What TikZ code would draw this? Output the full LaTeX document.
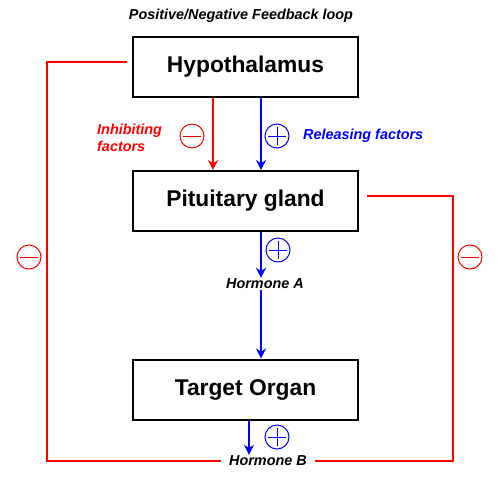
\documentclass[tikz,border=0pt]{standalone}
\usepackage{fontspec}
\setmainfont{Liberation Sans}
\usetikzlibrary{arrows.meta}
\definecolor{myred}{RGB}{255,0,0}
\definecolor{myblue}{RGB}{0,0,255}
\tikzset{
  organ/.style={draw=black, line width=2pt, minimum width=225pt, minimum height=60pt, inner sep=0pt, font=\fontsize{22.8}{26}\selectfont\bfseries},
  lbl/.style={font=\fontsize{14.4}{17.5}\selectfont\bfseries\itshape, inner sep=1pt},
  conn/.style={line width=2pt},
  arr/.style={line width=2pt, -{Stealth[length=10pt,width=10pt]}},
  minussign/.style={circle, draw, line width=1pt, minimum size=24pt, inner sep=0pt,
    path picture={\draw[line width=1pt] ([xshift=-9pt]path picture bounding box.center) -- ([xshift=9pt]path picture bounding box.center);}},
  plussign/.style={minussign,
    path picture={\draw[line width=1pt] ([xshift=-9pt]path picture bounding box.center) -- ([xshift=9pt]path picture bounding box.center);
      \draw[line width=1pt] ([yshift=-9pt]path picture bounding box.center) -- ([yshift=9pt]path picture bounding box.center);}}
}
\begin{document}
\begin{tikzpicture}[x=1pt,y=-1pt]
\useasboundingbox (0,0) rectangle (500,480);
\node[lbl] (title) at (241,16) {Positive/Negative Feedback loop};
\node[organ] (hyp) at (245.5,67) {Hypothalamus};
\node[organ] (pit) at (245.5,201) {Pituitary gland};
\node[organ] (tgt) at (245.5,389.5) {Target Organ};
\node[lbl] (hA) at (265,284) {Hormone A};
\node[lbl, inner xsep=8pt] (hB) at (268,461) {Hormone B};
\node[lbl, text=myred, align=left, anchor=west] (inh) at (96,138) {Inhibiting\\factors};
\node[lbl, text=myblue, anchor=west] (rel) at (302,136) {Releasing factors};
\node[minussign, draw=myred] (m1) at (192,136) {};
\node[plussign, draw=myblue] (p1) at (277,136) {};
\node[plussign, draw=myblue] (p2) at (278,250) {};
\node[plussign, draw=myblue] (p3) at (277,437) {};
\node[minussign, draw=myred] (m2) at (29,257) {};
\node[minussign, draw=myred] (m3) at (470,257) {};
\coordinate (lstart) at ([xshift=-5,yshift=5]hyp.west);
\coordinate (lcorner) at (47,461);
\coordinate (rcorner) at (453,461);
\coordinate (rend) at ([xshift=8,yshift=5]pit.east);
\coordinate (pitS) at ([xshift=15.5]pit.south);
\coordinate (tgtS) at ([xshift=3.5]tgt.south);
% main arrows
\draw[arr, myred] ([xshift=-32.5]hyp.south) -- ([xshift=-32.5]pit.north);
\draw[arr, myblue] ([xshift=15.5]hyp.south) -- ([xshift=15.5]pit.north);
\draw[arr, myblue] (pitS) -- (hA.north -| pitS);
\draw[arr, myblue] (hA.south -| pitS) -- ([xshift=15.5]tgt.north);
\draw[arr, myblue] (tgtS) -- (hB.north -| tgtS);
% feedback loops
\draw[conn, myred] (lstart) -| (lcorner) -- (hB.west);
\draw[conn, myred] (hB.east) -- (rcorner) |- (rend);
\end{tikzpicture}
\end{document}
